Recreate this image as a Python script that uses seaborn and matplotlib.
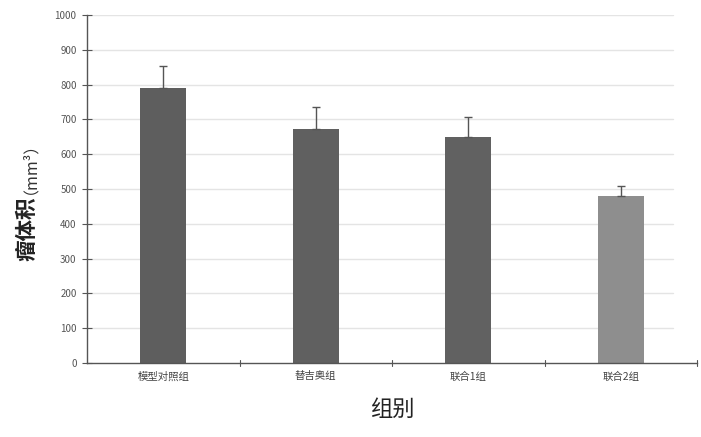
import matplotlib
matplotlib.use("Agg")
import matplotlib.pyplot as plt
import seaborn as sns
import pandas as pd
import numpy as np

groups = ["模型对照组", "替吉奥组", "联合1组", "联合2组"]
volume = [790, 672, 649, 480]
volume_err = [63, 64, 58, 29]
bar_colors = ["#5e5e5e", "#606060", "#616161", "#8e8e8e"]
y_ticks = [0, 100, 200, 300, 400, 500, 600, 700, 800, 900, 1000]

sns.set_theme(style="white")
plt.rcParams["font.family"] = ["Noto Sans CJK SC", "DejaVu Sans"]

df = pd.DataFrame({"group": groups, "volume": volume})

fig = plt.figure(figsize=(7.01, 4.37), dpi=100)
ax = fig.add_axes([87 / 701, 74 / 437, 610 / 701, 348 / 437])

for y in y_ticks[1:]:
    ax.axhline(y, xmin=0.0, xmax=0.96, color="#e4e4e4", lw=1.0, zorder=0)

sns.barplot(data=df, x="group", y="volume", hue="group", palette=bar_colors,
            legend=False, errorbar=None, width=0.3, ax=ax, zorder=2,
            edgecolor="none")

ax.errorbar(np.arange(len(groups)), volume,
            yerr=[np.zeros(len(groups)), volume_err],
            fmt="none", ecolor="#555555", elinewidth=1.0, capsize=3,
            capthick=1.0, zorder=3)

ax.set_ylim(0, 1000)
ax.set_xlim(-0.5, len(groups) - 0.5)
ax.set_yticks(y_ticks)
ax.set_yticklabels([str(v) for v in y_ticks], fontsize=7, color="#555555")
ax.set_xticks(range(len(groups)))
ax.set_xticklabels(groups, fontsize=7.5, color="#444444")
ax.tick_params(axis="x", length=0, pad=6)
ax.tick_params(axis="y", direction="inout", length=7, width=0.8,
               color="#555555", pad=4, left=True)

# category boundary ticks on the x axis
for b in np.arange(0.5, len(groups), 1.0):
    ax.plot([b, b], [-8, 8], color="#555555", lw=0.8, clip_on=False, zorder=4)

for side in ["top", "right"]:
    ax.spines[side].set_visible(False)
for side in ["left", "bottom"]:
    ax.spines[side].set_color("#555555")
    ax.spines[side].set_linewidth(1.0)

ax.set_xlabel("组别", fontsize=16, color="#222222", labelpad=12)
ax.set_ylabel("")

# y-axis title: smaller unit on top, bold name stacked right below it
unit = fig.text(22 / 701, 1 - 160 / 437, "（mm³）", rotation=90,
                ha="center", va="center", fontsize=11.5, color="#333333")
fig.canvas.draw()
ub = unit.get_window_extent().transformed(fig.transFigure.inverted())
fig.text(27 / 701, ub.y0 - 2 / 437, "瘤体积", rotation=90, ha="center",
         va="top", fontsize=15.5, fontweight="bold", color="#222222")

fig.savefig("out.png", dpi=100)
